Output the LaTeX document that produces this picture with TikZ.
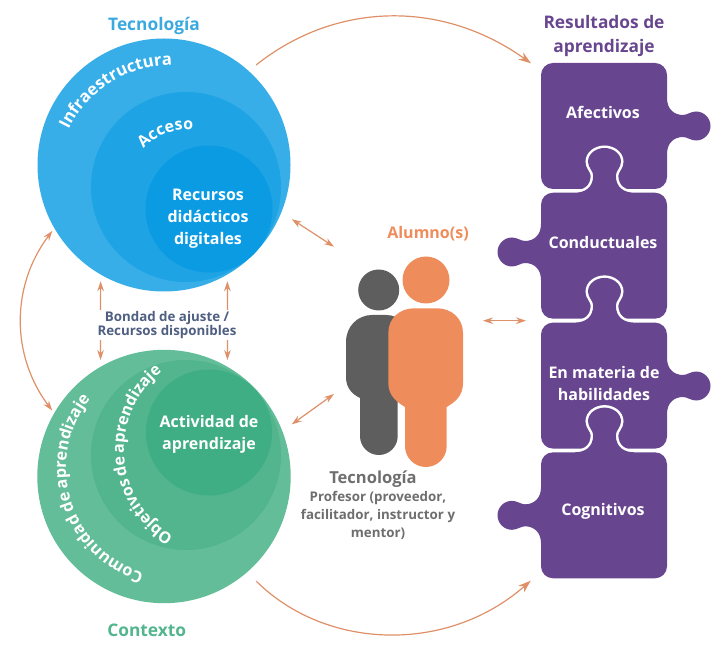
\documentclass[tikz,border=0pt]{standalone}
\usepackage{fontspec}
\setmainfont{Open Sans}
\newfontfamily\letraMedia[LetterSpace=-6]{Open Sans}
\newfontfamily\letraPrieta[LetterSpace=-10]{Open Sans}
\usetikzlibrary{arrows.meta,decorations.text}
\definecolor{azulA}{HTML}{38AEE8}
\definecolor{azulB}{HTML}{1EA3E4}
\definecolor{azulC}{HTML}{0A9BE3}
\definecolor{azulT}{HTML}{3AA9E0}
\definecolor{verdeA}{HTML}{63BD98}
\definecolor{verdeB}{HTML}{52B58E}
\definecolor{verdeC}{HTML}{40AE85}
\definecolor{morado}{HTML}{68468F}
\definecolor{naranja}{HTML}{EE8C5C}
\definecolor{flechaColor}{HTML}{DF9068}
\definecolor{gris}{HTML}{5E5E5E}
\definecolor{pizarra}{HTML}{4F5F82}
\newcommand{\arcoInfra}{\color{white}\fontsize{12.5}{15}\bfseries}
\newcommand{\arcoAcceso}{\color{white}\fontsize{12}{15}\bfseries}
\newcommand{\arcoComun}{\color{white}\letraMedia\fontsize{12.2}{15}\bfseries}
\newcommand{\arcoObjet}{\color{white}\letraPrieta\fontsize{12}{15}\bfseries}
\newcommand{\encajeTop}{-- (33.5,0) .. controls (44,0) and (52,5) .. (52.2,17) .. controls (52.2,22) and (47,25) .. (47,31) .. controls (47,39) and (55,44.7) .. (63.5,44.7) .. controls (72,44.7) and (80,39) .. (80,31) .. controls (80,25) and (74.8,22) .. (74.8,17) .. controls (75,5) and (83,0) .. (93.5,0)}
\newcommand{\encajeDer}[1]{-- (126,#1+28) .. controls (126,#1+17) and (133,#1+11) .. (142,#1+11) .. controls (146,#1+11) and (150,#1+14.5) .. (155,#1+14.5) .. controls (163,#1+14.5) and (169.5,#1+8) .. (169.5,#1) .. controls (169.5,#1-8) and (163,#1-14.5) .. (155,#1-14.5) .. controls (150,#1-14.5) and (146,#1-11) .. (142,#1-11) .. controls (133,#1-11) and (126,#1-17) .. (126,#1-28)}
\newcommand{\encajeIzq}[1]{-- (0,#1-28) .. controls (0,#1-17) and (-7,#1-11) .. (-16,#1-11) .. controls (-20,#1-11) and (-24,#1-14.5) .. (-29,#1-14.5) .. controls (-37,#1-14.5) and (-43.5,#1-8) .. (-43.5,#1) .. controls (-43.5,#1+8) and (-37,#1+14.5) .. (-29,#1+14.5) .. controls (-24,#1+14.5) and (-20,#1+11) .. (-16,#1+11) .. controls (-7,#1+11) and (0,#1+17) .. (0,#1+28)}
\newcommand{\pieza}[4]{\path[pieza,shift={(541,#1)}] (0,-12) arc[start angle=180,end angle=90,radius=12] #2 -- (114,0) arc[start angle=90,end angle=0,radius=12] #3 -- (126,-114) arc[start angle=0,end angle=-90,radius=12] -- (12,-126) arc[start angle=-90,end angle=-180,radius=12] #4 -- cycle;}
\tikzset{
    disco/.style={circle,inner sep=0pt,minimum size=#1*1.5pt},
    titulo/.style={font=\fontsize{13}{15}\bfseries},
    rotulo/.style={font=\fontsize{12}{16.5}\bfseries,text=white,align=center},
    flecha/.style={flechaColor,line width=0.9pt,<->,>={Stealth[length=7.5pt,width=5pt]}},
    curva/.style={flechaColor,line width=0.9pt,-{Stealth[length=9.5pt,width=6.5pt]}},
    arcotexto/.style 2 args={decorate,decoration={text along path,text={|#1|#2},text align=center}},
    pieza/.style={fill=morado,preaction={draw=white,line width=3.75pt}}
}
\begin{document}
\begin{tikzpicture}[x=0.75pt,y=0.75pt]
    \path[use as bounding box] (0,0) rectangle (724,654);
    \node[disco=126.5,fill=azulA] (tecno) at (164,489) {};
    \node[disco=95,fill=azulB] (acceso) at (186,467) {};
    \node[disco=63.5,fill=azulC] (recursos) at (209,445) {};
    \node[disco=126.7,fill=verdeA] (contexto) at (164,177.5) {};
    \node[disco=95,fill=verdeB] (objetivos) at (186,199) {};
    \node[disco=63,fill=verdeC] (actividad) at (209,221.5) {};
    \path[arcotexto={\arcoInfra}{Infraestructura}] (172,474) ++(162:115) arc[start angle=162,end angle=82,radius=115];
    \path[arcotexto={\arcoAcceso}{Acceso}] (186,467) ++(145:57) arc[start angle=145,end angle=76,radius=57];
    \path[arcotexto={\arcoComun}{Comunidad de aprendizaje}] (176,186) ++(260:110) arc[start angle=260,end angle=134,radius=110];
    \path[arcotexto={\arcoObjet}{Objetivos de aprendizaje}] (224,204) ++(240:100) arc[start angle=240,end angle=128,radius=100];
    \node[rotulo] (recursosT) at (208,435) {Recursos\\didácticos\\digitales};
    \node[rotulo] (actividadT) at (209,220) {Actividad de\\aprendizaje};
    \node[titulo,text=azulT] (tituloTec) at (154,628) {Tecnología};
    \node[titulo,text=verdeB] (tituloCon) at (146.7,24) {Contexto};
    \node[titulo,text=morado,align=center,font=\fontsize{13}{17.5}\bfseries] (tituloRes) at (604,618) {Resultados de\\aprendizaje};
    \pieza{591}{}{\encajeDer{-63}}{}
    \pieza{461.3}{\encajeTop}{}{\encajeIzq{-59.3}}
    \pieza{331.4}{\encajeTop}{\encajeDer{-63.4}}{}
    \pieza{201.7}{\encajeTop}{}{\encajeIzq{-63}}
    \node[rotulo] (afectivos) at (603,542) {Afectivos};
    \node[rotulo] (conductuales) at (603,411.5) {Conductuales};
    \node[rotulo] (habilidades) at (604,270.5) {En materia de\\habilidades};
    \node[rotulo] (cognitivos) at (603,143) {Cognitivos};
    \fill[gris] (378.7,364) circle (20.5);
    \fill[gris] (346,312) .. controls (346,328) and (358,339) .. (372,339) -- (386,339) .. controls (400,339) and (411.6,328) .. (411.6,312) -- (411.6,277) .. controls (411.6,266) and (405,260) .. (397.7,256) -- (397.7,217.85) arc[start angle=0,end angle=-180,radius=18.85] -- (360,256) .. controls (352,260) and (346,266) .. (346,277) -- cycle;
    \fill[naranja] (426,374) circle (23.5);
    \fill[naranja] (388.3,321) .. controls (388.3,336) and (400,345.7) .. (414,345.7) -- (437,345.7) .. controls (451,345.7) and (463,336) .. (463,321) -- (463,271) .. controls (463,258) and (455,252) .. (446.7,247) -- (446.7,207.85) arc[start angle=0,end angle=-180,radius=20.85] -- (405,247) .. controls (397,252) and (388.3,258) .. (388.3,271) -- cycle;
    \node[titulo,font=\fontsize{12}{15}\bfseries,text=naranja] (alumno) at (428,420.5) {Alumno(s)};
    \node[titulo,font=\fontsize{12.4}{15}\bfseries,text=gris!90!white] (docente) at (373,175) {Tecnología};
    \node[font=\fontsize{10}{13.5}\bfseries,text=gris!90!white,align=center] (profesor) at (378,139) {Profesor (proveedor,\\facilitador, instructor y\\mentor)};
    \coordinate (resArriba) at (531,590.7);
    \coordinate (resAbajo) at (530.7,73.3);
    \coordinate (alumnoArriba) at (334,407.3);
    \coordinate (alumnoAbajo) at (334,260);
    \coordinate (alumnoDer) at (483,333.3);
    \coordinate (piezaIzq) at (526,333.3);
    \draw[flecha,shorten <=4.9pt,shorten >=4.9pt] (tecno.240) -- (contexto.120);
    \draw[flecha,shorten <=4.9pt,shorten >=4.9pt] (tecno.300) -- (contexto.60);
    \node[font=\fontsize{10}{10.5}\bfseries,text=pizarra,fill=white,align=center,inner sep=0pt,minimum height=22.5pt] (bondad) at (167,329) {Bondad de ajuste /\\Recursos disponibles};
    \draw[flecha,shorten <=2.3pt,shorten >=2.3pt] (tecno.210) to[bend right=37] (contexto.150);
    \draw[flecha,shorten <=9.2pt] (tecno.338) -- (alumnoArriba);
    \draw[flecha,shorten <=8.5pt] (contexto.21) -- (alumnoAbajo);
    \draw[flecha] (alumnoDer) -- (piezaIzq);
    \draw[curva,shorten <=7pt] (tecno.48) to[bend left=37] (resArriba);
    \draw[curva,shorten <=9.6pt] (contexto.311.7) to[bend right=43] (resAbajo);
\end{tikzpicture}
\end{document}
